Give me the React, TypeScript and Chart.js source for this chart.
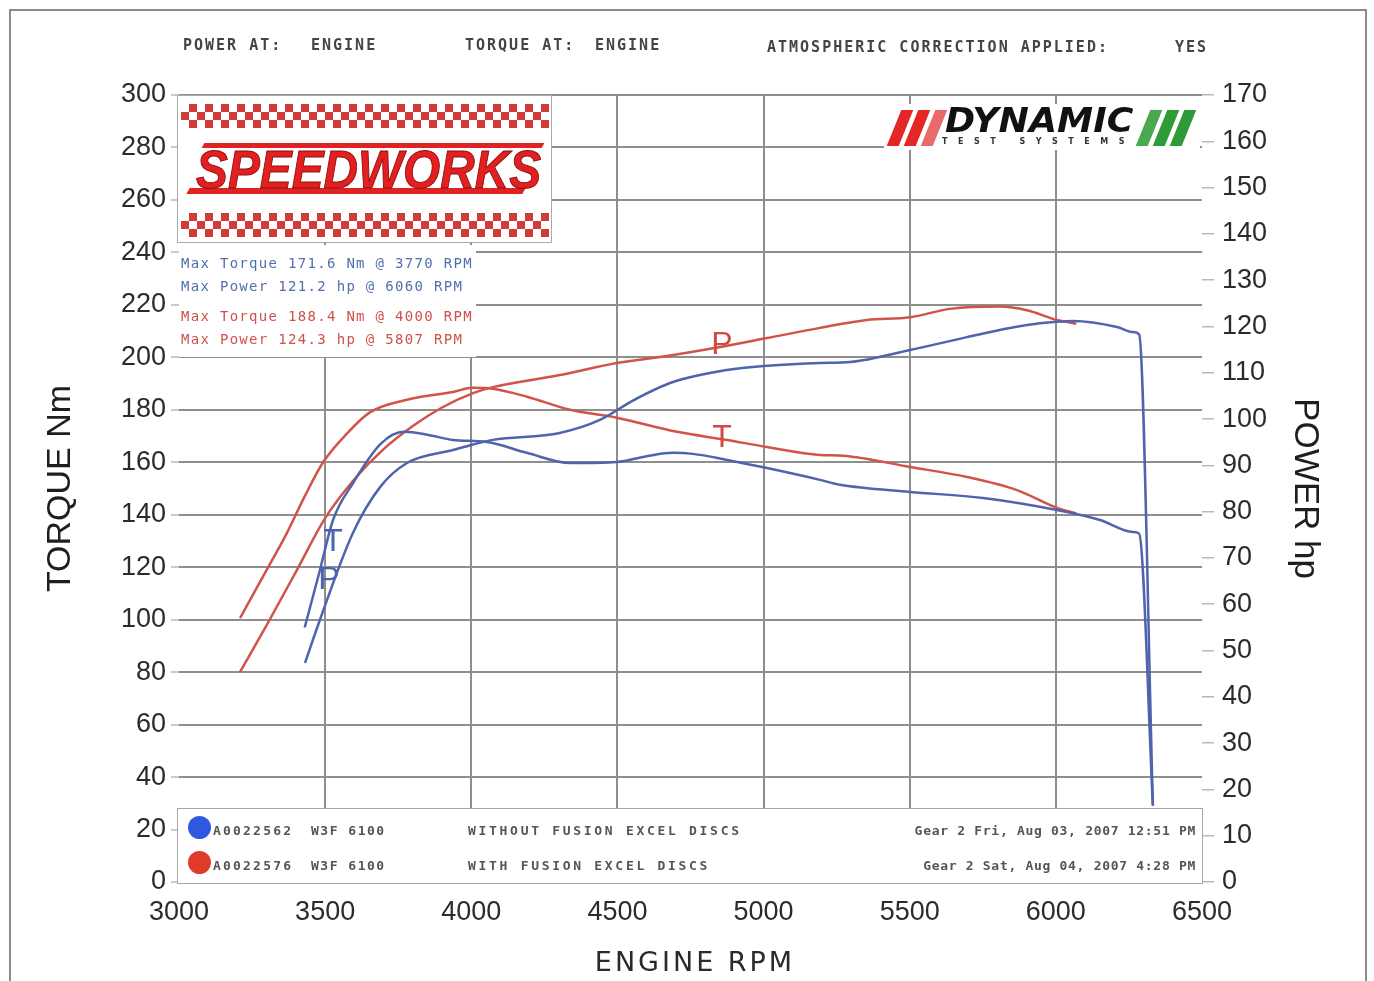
import React, { useEffect, useRef } from "react";
import { Chart, registerables } from "chart.js";

Chart.register(...registerables);

// ---------------- data ----------------
const rpmTicks = [3000, 3500, 4000, 4500, 5000, 5500, 6000, 6500];
const torqueTicks = [0, 20, 40, 60, 80, 100, 120, 140, 160, 180, 200, 220, 240, 260, 280, 300];
const powerTicks = [0, 10, 20, 30, 40, 50, 60, 70, 80, 90, 100, 110, 120, 130, 140, 150, 160, 170];

// blue run: without Fusion Excel discs
const blueTorqueRpm = [3430, 3480, 3527, 3595, 3690, 3770, 3850, 3937, 4054, 4190, 4338, 4498, 4600, 4690, 4758, 4875, 5012, 5193, 5262, 5501, 5751, 6004, 6151, 6264, 6285, 6332];
const blueTorqueNm = [97, 118, 138, 152, 167, 171.6, 170.5, 168.5, 167.7, 163.6, 159.7, 160.1, 162.3, 163.6, 163.2, 160.9, 157.8, 153.3, 151.4, 148.7, 146.4, 141.8, 138, 133.4, 132.8, 29];
const bluePowerRpm = [3431, 3482, 3595, 3688, 3780, 3937, 4006, 4074, 4303, 4440, 4553, 4690, 4875, 5012, 5193, 5296, 5501, 5696, 5901, 6004, 6060, 6209, 6264, 6285, 6332];
const bluePowerHp = [47.3, 56.6, 75.4, 85.3, 90.5, 93.3, 94.5, 95.5, 97, 99.8, 104, 108, 110.6, 111.5, 112.1, 112.3, 114.9, 117.7, 120.3, 121, 121.2, 119.9, 118.8, 118.3, 16.6];

// red run: with Fusion Excel discs
const redTorqueRpm = [3209, 3290, 3369, 3430, 3493, 3575, 3653, 3780, 3937, 4006, 4074, 4190, 4338, 4498, 4704, 4875, 5012, 5193, 5272, 5501, 5696, 5867, 6004, 6070];
const redTorqueNm = [100.6, 117, 133, 147, 160, 171, 179, 183.8, 186.8, 188.4, 188, 185, 180, 177, 171.6, 168.5, 165.8, 162.8, 162.5, 158.2, 154.4, 149.4, 142.6, 140.5];
const redPowerRpm = [3209, 3300, 3400, 3500, 3600, 3700, 3800, 3900, 4006, 4074, 4303, 4498, 4646, 4827, 5012, 5193, 5353, 5501, 5638, 5809, 5901, 6004, 6070];
const redPowerHp = [45.4, 55.5, 67, 78.6, 87, 93.5, 98.5, 102.5, 105.6, 106.9, 109.5, 112.1, 113.4, 115.3, 117.5, 119.7, 121.4, 122, 123.8, 124.3, 123.5, 121.4, 120.6];

const headerTexts = ["POWER AT:", "ENGINE", "TORQUE AT:", "ENGINE", "ATMOSPHERIC CORRECTION APPLIED:", "YES"];
const blueStats = ["Max Torque 171.6 Nm @ 3770 RPM", "Max Power 121.2 hp @ 6060 RPM"];
const redStats = ["Max Torque 188.4 Nm @ 4000 RPM", "Max Power 124.3 hp @ 5807 RPM"];
const runIds = ["A0022562", "A0022576"];
const runDyno = ["W3F 6100", "W3F 6100"];
const runNotes = ["WITHOUT FUSION EXCEL DISCS", "WITH FUSION EXCEL DISCS"];
const runDates = ["Gear 2 Fri, Aug 03, 2007 12:51 PM", "Gear 2 Sat, Aug 04, 2007 4:28 PM"];

const RED = "rgb(208, 84, 74)";
const BLUE = "rgb(78, 100, 172)";
const GRID = "#8e8e8e";
const FONT = "'Liberation Sans', Arial, sans-serif";
const MONO = "'DejaVu Sans Mono', monospace";

const pts = (xs: number[], ys: number[]) => xs.map((x, i) => ({ x, y: ys[i] }));
const setTicks = (vals: number[]) => (s: any) => {
  s.ticks = vals.map((v) => ({ value: v }));
};

export default function App() {
  const ref = useRef<HTMLCanvasElement | null>(null);

  useEffect(() => {
    if (!ref.current) return;
    const tickFont = { family: FONT, size: 27 };
    const chart = new Chart(ref.current, {
      type: "line",
      data: {
        datasets: [
          { data: pts(blueTorqueRpm, blueTorqueNm), borderColor: BLUE, yAxisID: "y" },
          { data: pts(bluePowerRpm, bluePowerHp), borderColor: BLUE, yAxisID: "y1" },
          { data: pts(redTorqueRpm, redTorqueNm), borderColor: RED, yAxisID: "y" },
          { data: pts(redPowerRpm, redPowerHp), borderColor: RED, yAxisID: "y1" },
        ],
      },
      options: {
        animation: false,
        responsive: false,
        devicePixelRatio: 1,
        parsing: true,
        layout: { padding: { top: 95, left: 0, right: 0, bottom: 0 } },
        plugins: { legend: { display: false }, tooltip: { enabled: false } },
        elements: {
          point: { radius: 0 },
          line: { borderWidth: 2.5, cubicInterpolationMode: "monotone", fill: false },
        },
        scales: {
          x: {
            type: "linear",
            min: 3000,
            max: 6500,
            afterBuildTicks: setTicks(rpmTicks),
            afterFit: (s: any) => {
              s.height = 99;
            },
            border: { display: false },
            grid: {
              color: (c: any) =>
                c.tick && (c.tick.value === 3000 || c.tick.value === 6500) ? "rgba(0,0,0,0)" : GRID,
              lineWidth: 2,
              drawTicks: false,
            },
            ticks: {
              font: tickFont,
              color: "#2b2b2b",
              padding: 14,
              maxRotation: 0,
              autoSkip: false,
              callback: (v: any) => String(v),
            },
          },
          y: {
            type: "linear",
            position: "left",
            min: 0,
            max: 300,
            afterBuildTicks: setTicks(torqueTicks),
            afterFit: (s: any) => {
              s.width = 179;
            },
            border: { display: false },
            grid: { color: GRID, lineWidth: 2, tickLength: 8, tickColor: "#b8b8b8", tickWidth: 1.5 },
            ticks: { font: tickFont, color: "#2b2b2b", padding: 5, autoSkip: false, callback: (v: any) => String(v) },
            title: {
              display: true,
              text: "TORQUE Nm",
              font: { family: FONT, size: 34 },
              color: "#1e1e1e",
              padding: { top: 40, bottom: 0 },
            },
          },
          y1: {
            type: "linear",
            position: "right",
            min: 0,
            max: 170,
            afterBuildTicks: setTicks(powerTicks),
            afterFit: (s: any) => {
              s.width = 172;
            },
            border: { display: false },
            grid: { drawOnChartArea: false, tickLength: 12, color: "#b8b8b8", lineWidth: 1.5 },
            ticks: { font: tickFont, color: "#2b2b2b", padding: 8, autoSkip: false, callback: (v: any) => String(v) },
            title: {
              display: true,
              text: "POWER hp",
              font: { family: FONT, size: 35 },
              color: "#1e1e1e",
              padding: { top: 48, bottom: 0 },
            },
          },
        },
      } as any,
    });
    return () => chart.destroy();
  }, []);

  const abs = (o: React.CSSProperties): React.CSSProperties => ({ position: "absolute", ...o });
  const hdr: React.CSSProperties = {
    fontFamily: MONO,
    fontWeight: "bold",
    fontSize: 15,
    letterSpacing: 2,
    color: "#444",
    whiteSpace: "pre",
    lineHeight: "16px",
  };
  const stat: React.CSSProperties = {
    fontFamily: MONO,
    fontSize: 14,
    letterSpacing: 1.3,
    whiteSpace: "pre",
    lineHeight: "16px",
  };
  const leg: React.CSSProperties = {
    fontFamily: MONO,
    fontWeight: "bold",
    fontSize: 13,
    color: "#555",
    whiteSpace: "pre",
    lineHeight: "16px",
  };
  const checker: React.CSSProperties = {
    backgroundImage: "repeating-conic-gradient(#d23b3b 0% 25%, #ffffff 0% 50%)",
    backgroundSize: "16px 16px",
  };
  const hand: React.CSSProperties = {
    fontFamily: FONT,
    fontSize: 32,
    lineHeight: "32px",
    transform: "translate(-50%, -50%)",
  };

  return (
    <div
      style={{
        position: "absolute",
        left: 0,
        top: 0,
        width: 1374,
        height: 981,
        background: "#fff",
        overflow: "hidden",
        fontFamily: FONT,
      }}
    >
      <canvas ref={ref} width={1374} height={981} style={{ position: "absolute", left: 0, top: 0, width: 1374, height: 981 }} />

      {/* page frame */}
      <div style={abs({ left: 9, top: 9, width: 1358, height: 990, border: "2px solid #8a8a8a", boxSizing: "border-box" })} />

      {/* header */}
      <div style={abs({ ...hdr, left: 183, top: 37 })}>{headerTexts[0]}</div>
      <div style={abs({ ...hdr, left: 311, top: 37 })}>{headerTexts[1]}</div>
      <div style={abs({ ...hdr, left: 465, top: 37 })}>{headerTexts[2]}</div>
      <div style={abs({ ...hdr, left: 595, top: 37 })}>{headerTexts[3]}</div>
      <div style={abs({ ...hdr, left: 767, top: 39 })}>{headerTexts[4]}</div>
      <div style={abs({ ...hdr, left: 1175, top: 39 })}>{headerTexts[5]}</div>

      {/* Speedworks logo */}
      <div style={abs({ left: 177, top: 95, width: 375, height: 148, background: "#fff", border: "1px solid #aaa", boxSizing: "border-box" })}>
        <div style={abs({ ...checker, left: 3, top: 8, width: 368, height: 24 })} />
        <div style={abs({ ...checker, left: 3, top: 117, width: 368, height: 24 })} />
        <div style={abs({ left: 25, top: 47, width: 340, height: 5, background: "#e02222", transform: "skewX(-30deg)" })} />
        <div style={abs({ left: 10, top: 92, width: 336, height: 6, background: "#e02222", transform: "skewX(-30deg)" })} />
        <div
          style={abs({
            left: 18,
            top: 46,
            fontSize: 54,
            lineHeight: 1,
            fontWeight: "bold",
            fontStyle: "italic",
            color: "#e3201f",
            WebkitTextStroke: "1px #8a1010",
            transform: "scaleX(0.885)",
            transformOrigin: "left top",
            whiteSpace: "pre",
          } as any)}
        >
          SPEEDWORKS
        </div>
      </div>

      {/* stats */}
      <div style={abs({ left: 179, top: 245, width: 297, height: 112, background: "#fff" })}>
        <div style={abs({ ...stat, left: 2, top: 10, color: "#4f6fae" })}>{blueStats[0]}</div>
        <div style={abs({ ...stat, left: 2, top: 33, color: "#4f6fae" })}>{blueStats[1]}</div>
        <div style={abs({ ...stat, left: 2, top: 63, color: "#d0504a" })}>{redStats[0]}</div>
        <div style={abs({ ...stat, left: 2, top: 86, color: "#d0504a" })}>{redStats[1]}</div>
      </div>

      {/* Dynamic logo */}
      <div style={abs({ left: 884, top: 104, width: 316, height: 46, background: "#fff" })}>
        <div style={abs({ left: 10, top: 6, width: 12, height: 36, background: "#e32626", transform: "skewX(-22deg)" })} />
        <div style={abs({ left: 27, top: 6, width: 12, height: 36, background: "#e32626", transform: "skewX(-22deg)" })} />
        <div style={abs({ left: 44, top: 6, width: 12, height: 36, background: "#e86a6a", transform: "skewX(-22deg)" })} />
        <div
          style={abs({
            left: 61,
            top: 0,
            fontFamily: "'DejaVu Sans', sans-serif",
            fontWeight: "bold",
            fontStyle: "italic",
            fontSize: 33,
            lineHeight: "33px",
            color: "#111",
            transform: "scaleX(1.1)",
            transformOrigin: "left top",
            whiteSpace: "pre",
          })}
        >
          DYNAMIC
        </div>
        <div
          style={abs({
            left: 58,
            top: 33,
            fontFamily: "'DejaVu Sans', sans-serif",
            fontWeight: "bold",
            fontSize: 8,
            letterSpacing: 10.5,
            lineHeight: "9px",
            color: "#333",
            whiteSpace: "pre",
          })}
        >
          TEST SYSTEMS
        </div>
        <div style={abs({ left: 259, top: 6, width: 12, height: 36, background: "#4aa84e", transform: "skewX(-22deg)" })} />
        <div style={abs({ left: 276, top: 6, width: 12, height: 36, background: "#2e9a38", transform: "skewX(-22deg)" })} />
        <div style={abs({ left: 293, top: 6, width: 12, height: 36, background: "#2e9a38", transform: "skewX(-22deg)" })} />
      </div>

      {/* legend box */}
      <div style={abs({ left: 177, top: 808, width: 1026, height: 76, background: "#fff", border: "1.5px solid #a8a8a8", boxSizing: "border-box" })}>
        <div style={abs({ left: 10, top: 7, width: 23, height: 23, borderRadius: "50%", background: "#2f58e0" })} />
        <div style={abs({ left: 10, top: 42, width: 23, height: 23, borderRadius: "50%", background: "#e03a2a" })} />
        {[0, 1].map((i) => (
          <React.Fragment key={i}>
            <div style={abs({ ...leg, left: 35, top: 14 + i * 35, letterSpacing: 2.2 })}>{runIds[i]}</div>
            <div style={abs({ ...leg, left: 133, top: 14 + i * 35, letterSpacing: 1.5 })}>{runDyno[i]}</div>
            <div style={abs({ ...leg, left: 290, top: 14 + i * 35, letterSpacing: 2.7 })}>{runNotes[i]}</div>
            <div style={abs({ ...leg, right: 6, top: 14 + i * 35, letterSpacing: 0.7 })}>{runDates[i]}</div>
          </React.Fragment>
        ))}
      </div>

      {/* hand-written curve markers */}
      <div style={abs({ ...hand, left: 722, top: 343, color: "#cf4a44" })}>P</div>
      <div style={abs({ ...hand, left: 722, top: 436, color: "#cf4a44" })}>T</div>
      <div style={abs({ ...hand, left: 333, top: 540, color: "#4d62b0" })}>T</div>
      <div style={abs({ ...hand, left: 329, top: 578, color: "#4d62b0" })}>P</div>

      {/* x axis title */}
      <div
        style={abs({
          left: 695,
          top: 962,
          transform: "translate(-50%, -50%)",
          fontFamily: "'DejaVu Sans', sans-serif",
          fontSize: 27,
          letterSpacing: 3,
          color: "#2a2a2a",
          whiteSpace: "pre",
          lineHeight: "30px",
        })}
      >
        ENGINE RPM
      </div>
    </div>
  );
}
